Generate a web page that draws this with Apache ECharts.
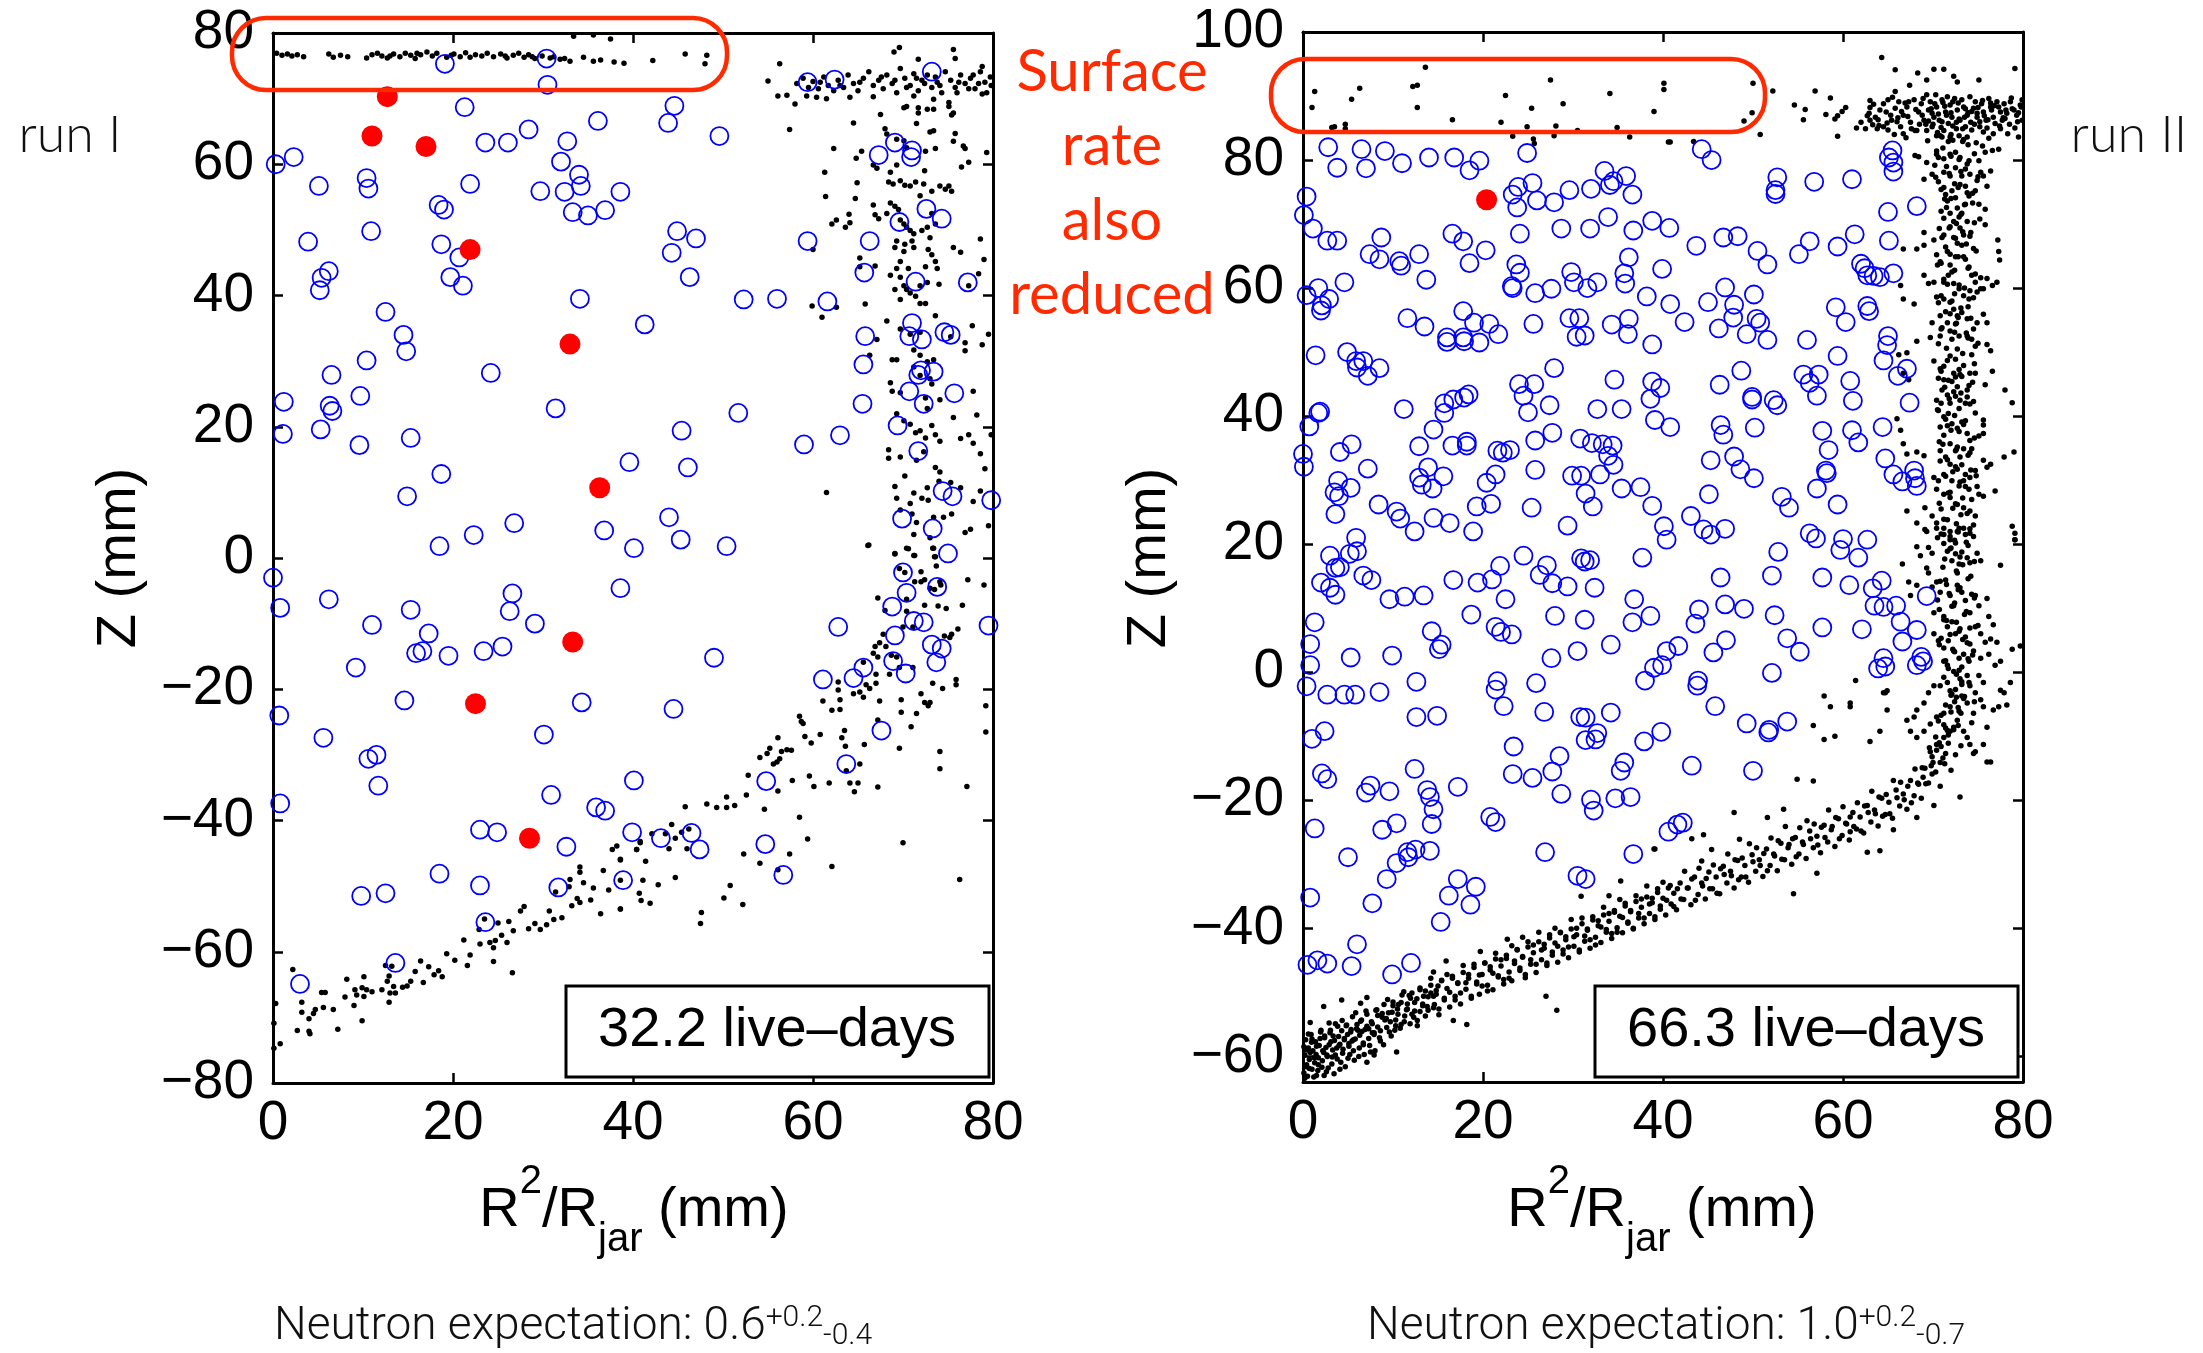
<!DOCTYPE html>
<html>
<head>
<meta charset="utf-8">
<title>run I / run II</title>
<script src="https://cdn.jsdelivr.net/npm/echarts@6/dist/echarts.min.js"></script>
<style>
html, body { margin: 0; padding: 0; background: #fff; }
#chart { width: 2203px; height: 1353px; }
</style>
</head>
<body>
<div id="chart"></div>
<script type="text/javascript">

var xTicks = [0, 20, 40, 60, 80];
var yTicksRunOne = [-80, -60, -40, -20, 0, 20, 40, 60, 80];
var yTicksRunTwo = [-60, -40, -20, 0, 20, 40, 60, 80, 100];

// run I : black events, blue open circles, red candidates
var runOneDots = [
[0.4,76.9],[1.0,76.6],[1.6,76.8],[2.1,76.5],[2.7,76.7],[3.4,76.4],[6.2,76.8],[6.7,76.3],[7.5,76.6],[8.3,76.4],[10.4,76.2],[11.0,76.7],[11.6,76.9],[12.1,76.5],[12.7,76.2],[13.0,76.5],[13.4,76.8],[14.1,76.4],[14.7,76.9],[15.3,76.6],[15.8,76.1],[16.0,76.9],[16.4,76.7],[17.1,77.1],[17.7,76.5],[18.2,76.9],[19.3,76.3],[19.8,76.6],[20.1,76.8],[20.8,76.4],[21.4,77.0],[21.9,76.3],[22.5,76.7],[23.2,76.5],[23.8,76.9],[24.5,76.4],[25.3,76.8],[25.8,76.5],[26.0,76.2],[26.7,76.6],[27.3,76.9],[27.9,76.3],[28.4,76.7],[28.8,76.4],[29.1,76.1],[29.9,76.5],[30.8,76.2],[31.2,76.4],[31.9,76.0],[32.4,76.1],[33.0,75.7],[34.5,76.3],[35.6,75.7],[36.4,75.9],[37.9,75.6],[39.0,75.4],[42.2,75.8],[45.8,76.8],[48.2,76.6],[48.0,75.3],[33.4,79.5],[35.6,79.7],[37.5,79.1],
[56.3,75.3],[55.0,72.7],[56.1,70.4],[57.1,70.5],[58.0,69.2],[57.4,65.3],[64.5,66.3],[67.5,67.6],[69.0,77.1],[69.6,77.8],[71.7,76.0],[75.6,77.5],[75.8,76.1],[78.8,74.9],
[58.2,72.3],[58.9,73.1],[59.5,71.7],[60.0,72.6],[60.6,71.5],[61.2,73.3],[61.7,72.0],[62.3,71.2],[62.8,72.8],[63.4,71.7],[63.9,73.6],[64.5,72.3],[65.0,71.2],[65.6,73.1],[66.2,74.1],[66.7,72.0],[67.3,72.8],[67.8,71.5],[68.2,73.6],[68.8,72.3],[69.3,70.9],[69.7,74.6],[70.2,73.1],[70.8,72.0],[71.2,73.8],[71.7,71.2],[72.1,72.8],[72.7,73.6],[73.2,71.7],[73.8,72.5],[74.3,70.9],[74.7,74.1],[75.3,72.8],[75.8,71.7],[76.4,73.6],[76.9,72.3],[77.5,73.1],[78.0,71.5],[78.6,74.1],[79.1,72.5],[79.7,73.3],[79.3,70.9],[59.3,70.4],[60.4,70.2],[61.5,70.0],[64.1,70.2],[66.7,70.3],[71.2,70.4],[73.4,69.9],[76.0,70.9],[75.1,69.4],[75.4,67.5],[75.1,68.8],[73.4,68.4],[72.7,68.4],[71.7,68.6],[70.1,68.6],[70.4,68.8],[75.6,67.8],[78.8,70.7],
[60.8,72.5],[63.0,72.0],[65.2,72.5],[67.6,73.3],[69.1,72.8],[70.4,71.7],[71.5,73.1],[72.4,72.3],[73.6,73.3],[74.1,72.0],[76.2,72.5],[77.3,71.5],[77.8,73.6],[78.4,72.3],[79.8,72.0],
[71.7,67.8],[71.5,66.2],[73.0,64.9],[73.4,65.1],[75.8,64.7],[75.6,63.5],[76.7,62.8],[76.9,62.4],[79.3,61.8],[68.0,65.4],[68.2,64.6],[69.3,63.8],[70.1,63.6],[70.4,62.5],[72.5,62.0],[73.6,62.4],[64.8,60.9],[65.4,62.0],[66.7,59.9],[67.1,59.4],[68.6,58.8],[68.4,57.3],[68.9,57.0],[69.3,59.9],[69.7,57.5],[70.2,56.8],[70.8,56.7],[71.4,57.3],[72.4,59.0],[72.3,57.0],[71.9,55.2],[73.2,55.9],[74.1,56.7],[74.7,56.2],[75.1,56.7],[75.4,55.9],[76.5,59.6],[77.3,60.3],[62.3,62.4],[61.3,58.8],[61.4,55.1],[64.7,54.8],[64.9,57.2],[66.7,53.8],[66.9,52.3],[67.3,51.7],[68.2,52.5],[68.6,54.1],[69.1,53.6],[69.5,53.1],[69.7,51.5],[70.1,50.9],[70.4,50.4],[70.8,49.9],[71.2,49.4],[71.0,48.3],[70.2,47.8],[69.3,48.3],[69.1,47.3],[70.1,46.7],[71.2,47.3],[72.1,49.9],[72.7,50.4],[73.2,52.5],[73.6,50.9],[73.0,48.8],[72.8,47.0],[73.2,46.2],[73.6,45.2],[73.8,44.1],[72.5,44.4],[72.7,42.0],[71.9,41.5],[71.4,39.9],[70.8,40.4],[70.4,40.9],[70.1,41.5],[69.7,42.8],[69.3,44.1],[69.7,45.2],[70.6,44.1],[68.6,43.1],[69.1,40.9],[69.7,39.4],[71.9,38.8],[72.5,38.8],[74.0,41.7],[75.6,47.3],[76.4,46.6],[78.6,48.6],[79.0,45.5],[78.4,43.3],[77.3,41.5],[65.2,45.7],[65.2,44.4],[66.9,44.5],[64.1,51.1],[62.6,51.5],[62.1,50.9],[63.6,50.4],[64.0,52.4],[60.0,47.0],[59.9,38.4],[61.0,36.7],[62.6,38.2],[65.8,38.7],[68.2,36.1],[69.7,34.9],[70.8,34.1],[71.9,34.4],[73.6,36.9],[75.3,33.7],[77.7,35.4],[78.8,32.5],[79.5,34.1],[76.9,32.8],[76.9,31.6],[67.1,33.3],[66.3,30.9],[68.8,30.2],[69.3,30.2],[71.2,31.7],[71.9,30.9],[72.7,29.9],[73.4,30.2],[68.6,26.7],[68.8,25.4],[69.7,25.2],[71.2,29.1],[71.9,27.8],[73.0,27.3],[73.2,26.5],[72.5,24.4],[72.7,22.8],[74.1,24.1],[77.8,25.4],[75.6,21.4],[78.2,21.8],[69.3,22.0],[70.1,20.9],[70.8,20.4],[71.4,19.1],[71.9,19.4],[72.5,18.3],[73.2,20.2],[73.6,18.8],[74.1,17.8],[77.3,18.8],[77.8,17.5],[76.4,18.2],[78.6,15.9],[79.8,18.8],[68.4,16.5],[68.4,15.2],[69.7,15.4],[71.5,14.9],[72.3,16.2],[73.6,13.8],[74.1,13.1],[79.1,13.6],[70.2,12.5],[69.1,10.9],[71.2,9.9],[72.1,9.1],[69.3,9.1],[69.7,7.3],[70.8,8.3],[71.0,6.7],[72.7,10.7],[72.8,8.8],[74.0,11.7],[75.3,11.5],[76.4,10.7],[78.6,10.2],[77.8,8.6],[77.5,4.4],[76.9,3.9],[79.5,4.9],[71.5,5.4],[73.4,6.2],[74.5,6.2],[75.4,6.7],[71.2,3.6],[73.0,3.1],[73.4,1.5],[73.6,0.2],[70.4,1.5],[71.2,0.4],[69.1,0.7],[66.2,2.0],[61.5,10.0],
[66.1,1.9],[69.1,0.6],[70.6,1.4],[71.3,0.4],[73.3,1.5],[73.5,0.2],[73.7,-1.2],[69.6,-1.6],[70.2,-2.2],[72.0,-2.1],[71.3,-3.6],[72.0,-3.6],[72.4,-3.3],[74.1,-3.6],[73.0,-4.6],[73.5,-4.8],[74.2,-4.1],[67.2,-6.1],[68.0,-8.0],[70.4,-6.3],[72.4,-7.2],[73.9,-7.3],[74.8,-7.7],[76.6,-7.2],[77.2,-3.3],[79.0,-4.1],[70.4,-8.1],[70.0,-10.5],[71.1,-10.5],[67.8,-11.6],[67.4,-12.9],[66.9,-13.5],[66.7,-14.5],[67.2,-15.1],[68.1,-13.5],[68.7,-14.8],[69.3,-15.1],[69.6,-16.7],[68.5,-17.7],[67.0,-17.7],[65.9,-19.3],[65.2,-20.4],[65.6,-21.2],[64.5,-20.7],[67.0,-19.1],[66.3,-19.9],[65.6,-15.9],[71.1,-16.7],[74.6,-11.9],[75.4,-11.6],[75.2,-12.1],[76.1,-10.8],[75.9,-18.5],[75.9,-19.3],[74.4,-19.9],[73.3,-19.1],[79.2,-22.5],[79.2,-26.5],[74.1,-29.5],[74.1,-32.1],[77.1,-34.8],[72.0,-20.7],[72.4,-22.0],[72.8,-22.5],[73.0,-22.0],[71.5,-23.7],[70.9,-25.7],[69.8,-21.6],[69.8,-23.5],[69.6,-29.0],[67.4,-21.8],[67.2,-24.7],[65.7,-28.4],[65.2,-31.4],[65.0,-34.3],[64.6,-35.6],[64.1,-34.3],[63.7,-32.4],[63.5,-26.3],[63.6,-28.7],[63.2,-27.4],[63.0,-23.1],[63.0,-21.6],[62.8,-20.1],[62.8,-18.9],[62.1,-23.2],[61.1,-21.8],[60.8,-26.9],[59.8,-28.2],[59.1,-27.2],[58.7,-24.9],[58.5,-24.1],[58.9,-25.2],[57.6,-29.3],[57.1,-29.2],[56.5,-29.5],[56.3,-30.6],[56.0,-31.1],[56.1,-27.4],[55.6,-31.4],[55.2,-29.0],[54.9,-29.8],[54.1,-30.4],[52.8,-33.1],[52.6,-36.1],[51.3,-37.7],[50.4,-36.4],[50.4,-38.0],[49.3,-38.0],[48.2,-37.5],[45.8,-37.9],[44.7,-42.7],[44.3,-40.6],[43.6,-42.0],[42.1,-42.0],[40.8,-43.2],[40.4,-44.4],[41.4,-46.2],[38.6,-46.0],[44.0,-44.3],[46.0,-44.3],[46.2,-41.3],[45.4,-41.8],[56.1,-35.5],[57.7,-33.9],[58.5,-39.5],[59.4,-42.8],[59.6,-33.2],[60.1,-34.8],[61.8,-34.3],[67.2,-34.9],[70.0,-43.4],[76.3,-49.0],[62.1,-47.0],[57.4,-45.1],[54.1,-46.5],[52.3,-45.1],[54.6,-38.3],[56.1,-47.5],[50.8,-49.9],[50.1,-51.8],[52.2,-52.8],[47.6,-54.0],[47.5,-55.7],[44.7,-48.7],[42.8,-49.8],[41.9,-52.6],[40.9,-52.2],[40.7,-51.1],[41.1,-49.1],[38.6,-53.5],[38.6,-49.1],
[37.7,-44.4],[38.2,-43.9],[38.6,-45.9],[40.4,-44.4],[40.8,-43.4],[34.1,-47.1],[34.1,-47.9],[33.0,-49.0],[32.9,-50.1],[36.7,-47.6],[34.5,-49.5],[35.6,-50.3],[37.3,-50.6],[38.6,-53.5],[36.4,-54.2],[35.3,-52.1],[34.1,-52.5],[33.8,-51.9],[33.2,-53.0],[32.1,-54.8],[31.4,-50.9],[30.7,-53.8],[31.2,-55.1],[30.4,-55.9],[29.7,-56.6],[29.1,-55.7],[28.4,-56.5],[27.9,-53.1],[27.5,-53.8],[26.7,-56.8],[26.2,-55.4],[26.0,-58.6],[25.0,-55.6],[24.7,-58.3],[24.5,-59.4],[24.1,-58.6],[25.4,-57.5],[24.5,-61.5],[26.6,-63.2],[23.5,-55.0],[22.9,-56.6],[23.0,-58.8],[21.2,-58.2],[21.9,-60.5],[21.6,-62.1],[20.2,-61.3],[19.3,-60.3],[18.8,-63.8],[18.4,-62.9],[17.9,-63.5],[17.3,-62.3],[16.7,-64.7],[16.4,-61.4],[15.8,-63.0],[15.3,-64.5],[14.9,-65.2],[14.4,-65.4],[13.4,-65.3],[13.2,-62.2],[12.5,-62.1],[12.9,-63.7],[12.7,-64.5],[13.0,-66.3],[12.9,-67.7],[13.6,-66.3],[12.1,-65.8],[11.0,-66.1],[10.4,-65.8],[9.9,-65.5],[10.1,-66.8],[9.3,-66.6],[9.1,-65.8],[9.0,-68.2],[8.0,-66.9],[8.2,-64.2],[10.1,-63.8],[9.9,-70.5],[7.2,-71.8],[6.7,-68.8],[5.6,-68.5],[5.4,-66.2],[5.8,-66.2],[4.7,-68.8],[4.5,-69.4],[4.0,-70.2],[3.2,-67.7],[3.2,-69.2],[2.7,-72.0],[4.0,-72.1],[4.1,-72.5],[2.2,-62.7],[0.3,-67.9],[0.1,-70.9],[0.8,-74.0],[0.1,-74.7]
];

var runOneOpen = [
[19.1,75.3],[30.4,76.1],[30.5,72.1],[21.3,68.7],[36.1,66.6],[28.4,65.3],[23.6,63.3],[26.1,63.3],[32.7,63.5],[0.3,60.0],[2.3,61.1],[32.0,60.4],[34.0,58.4],[34.2,56.7],[5.1,56.7],[10.4,57.9],[10.6,56.3],[21.9,57.0],[29.7,55.9],[32.4,55.8],[38.6,55.8],[18.4,53.8],[19.0,53.1],[33.3,52.7],[35.0,52.2],[36.9,53.0],[10.9,49.8],[3.9,48.2],[18.7,47.8],[20.7,45.8],[6.2,43.7],[5.4,42.7],[5.2,40.8],[19.7,42.8],[21.1,41.5],[34.1,39.5],[12.5,37.5],[14.5,34.0],[14.8,31.5],[41.3,35.6],[10.4,30.1],[6.5,27.9],[24.2,28.2],[1.2,23.8],[6.3,23.2],[6.6,22.4],[9.7,24.7],[31.4,22.8],[1.1,18.9],[5.3,19.6],[9.6,17.2],[15.3,18.3],[39.6,14.6],[18.7,12.8],[14.9,9.4],[26.8,5.3],[22.3,3.5],[36.8,4.2],[18.5,1.8],[40.1,1.5],
[59.4,72.5],[62.4,72.9],[73.2,74.1],[44.6,68.9],[43.9,66.3],[49.6,64.3],[69.1,63.3],[71.0,62.1],[70.9,61.1],[67.3,61.4],[44.9,49.8],[47.0,48.7],[44.3,46.5],[46.3,42.8],[59.4,48.3],[66.3,48.3],[72.6,53.2],[74.3,51.7],[69.6,51.2],[65.7,43.5],[71.4,42.1],[77.2,42.0],[52.3,39.4],[56.0,39.5],[61.6,39.1],[65.8,33.8],[71.0,35.8],[70.7,33.8],[72.1,33.3],[74.6,34.4],[75.3,34.0],[65.6,29.5],[72.0,28.6],[73.4,28.4],[71.7,27.9],[70.7,25.4],[72.3,23.5],[75.7,25.1],[65.5,23.5],[51.7,22.1],[45.4,19.4],[63.0,18.7],[59.0,17.3],[69.4,20.2],[71.7,16.3],[46.1,13.8],[44.0,6.2],[45.3,2.8],[50.4,1.8],[74.4,10.2],[75.5,9.4],[79.8,8.8],[69.9,6.0],[73.3,4.5],[75.0,0.7],
[0.0,-3.0],[0.8,-7.6],[6.2,-6.3],[11.0,-10.2],[15.3,-7.9],[17.3,-11.5],[15.9,-14.5],[16.6,-14.2],[19.5,-14.9],[9.2,-16.7],[23.4,-14.2],[25.5,-13.5],[26.3,-8.1],[26.6,-5.4],[29.1,-10.0],[38.6,-4.6],[14.6,-21.7],[0.7,-24.0],[5.6,-27.4],[10.6,-30.6],[11.5,-30.0],[11.7,-34.7],[34.3,-22.0],[30.1,-26.9],[0.8,-37.4],[40.1,-33.9],[30.9,-36.1],[35.9,-38.0],[36.9,-38.5],[39.9,-41.8],[23.0,-41.4],[24.9,-41.8],[32.6,-44.0],[18.5,-48.1],[9.8,-51.5],[12.5,-51.1],[23.0,-49.9],[31.7,-50.2],[38.9,-49.1],[23.6,-55.5],[13.6,-61.7],[3.0,-64.9],
[70.0,-2.2],[70.4,-5.3],[73.8,-4.4],[68.8,-7.4],[69.1,-11.8],[71.2,-9.6],[72.3,-9.8],[73.2,-13.2],[74.3,-13.8],[73.7,-15.9],[70.3,-17.6],[68.9,-15.7],[65.6,-16.7],[64.5,-18.3],[61.1,-18.5],[62.8,-10.5],[79.5,-10.3],[49.0,-15.2],[44.5,-23.0],[67.6,-26.3],[63.7,-31.4],[54.8,-34.0],[43.1,-42.7],[46.5,-41.9],[47.4,-44.4],[54.7,-43.6],[56.7,-48.3]
];

var runOneRed = [
[12.7,70.3],[11.0,64.3],[17.0,62.7],[21.9,47.0],[33.0,32.6],[36.3,10.7],[33.3,-12.8],[22.5,-22.2],[28.5,-42.7]
];

// run II
var runTwoDots = [
[13.6,94.5],[1.3,90.7],[6.3,91.2],[5.4,89.5],[1.0,88.2],[12.2,91.5],[12.7,91.7],[12.7,88.2],[3.2,85.1],[3.5,85.2],[4.7,85.6],[4.7,84.9],[16.6,86.3],[22.0,85.9],[22.5,90.1],[23.3,83.7],[24.9,85.2],[25.4,88.1],[25.6,83.3],[25.7,82.6],[27.5,92.5],[28.9,88.8],[28.1,85.3],[27.9,83.8],[30.5,84.6],[34.1,90.4],[34.9,85.1],[36.3,83.6],[39.0,87.6],[40.1,92.0],[40.1,91.0],[40.6,82.8],[50.0,92.0],[52.2,90.8],[49.9,87.4],[49.0,86.1],[50.8,84.0],[40.8,82.8],[43.4,82.9],[54.6,88.6],[55.8,87.9],[55.6,86.3],[56.9,90.8],[58.1,87.1],[58.6,89.7],[59.1,86.4],[59.4,86.9],[59.9,87.6],[60.3,88.2],[59.4,83.7],[63.0,89.3],[63.0,88.2],[64.3,96.0],[65.8,94.1],[68.3,93.6],[69.3,92.5],[70.1,94.2],[71.2,94.2],[72.3,93.1],[72.7,92.2],[75.1,92.5],[79.1,94.3],[67.4,91.7],[65.8,90.7],
[62.5,84.9],[63.0,86.2],[63.6,86.7],[64.1,87.8],[64.5,88.8],[65.0,89.4],[65.4,86.2],[65.8,88.1],[66.2,89.1],[66.4,85.2],[66.7,87.0],[67.1,88.3],[67.5,85.9],[67.9,89.4],[68.0,84.6],[68.4,87.5],[68.7,88.8],[69.0,86.2],[69.3,90.2],[69.5,87.8],[69.7,89.1],[69.9,85.2],[70.1,86.7],[70.3,90.2],[70.4,88.3],[70.7,86.2],[71.0,89.4],[71.2,84.6],[71.4,87.5],[71.6,89.9],[71.7,85.7],[71.9,88.6],[72.1,86.7],[72.4,89.6],[72.6,84.9],[72.7,87.8],[73.0,86.2],[73.2,89.4],[73.4,88.3],[73.6,85.2],[73.8,87.0],[74.1,89.9],[74.2,85.9],[74.5,88.1],[74.7,89.1],[74.9,86.7],[75.2,85.2],[75.4,88.8],[75.6,87.5],[75.9,86.2],[76.2,89.6],[76.4,88.3],[76.7,86.7],[76.9,85.7],[77.1,89.1],[77.5,87.5],[77.7,86.2],[77.9,88.8],[78.2,87.3],[78.6,89.1],[79.0,87.8],[79.3,87.0],[79.7,88.6],[79.9,89.4],[79.9,86.2],[79.5,83.6],[64.5,85.2],[62.9,87.3],[65.3,87.0],[63.8,84.9],[66.7,84.1],[68.2,84.6],[69.3,84.6],[70.8,83.8],[70.4,83.8],[71.9,83.6],[72.9,83.8],[73.8,83.6],[75.6,84.4],[76.7,84.1],[77.3,81.7],[75.8,81.2],
[68.8,87.0],[69.8,88.0],[70.6,87.2],[71.3,88.4],[72.0,87.4],[72.8,88.9],[73.5,86.7],[74.3,87.6],[75.0,88.2],[75.7,86.9],[76.5,87.8],[77.3,88.3],[78.0,86.5],[78.8,88.0],[79.5,87.4],[70.0,85.6],[71.0,86.0],[72.2,85.3],[73.3,84.9],[74.6,85.6],[76.0,85.0],[77.4,85.3],[78.5,85.6],[69.2,85.6],[67.2,86.8],[66.0,86.0],[64.9,85.8],[63.3,85.5],[62.0,85.9],[61.5,85.0],
[62.7,86.9],[63.4,88.7],[64.0,85.4],[64.8,87.5],[65.5,89.8],[66.1,86.6],[66.9,88.9],[67.6,84.9],[68.1,87.9],[68.9,89.6],[69.5,86.1],[70.2,88.8],[70.9,85.1],[71.5,87.0],[72.2,89.1],[72.9,86.4],[73.6,88.0],[74.3,84.7],[74.9,87.3],[75.5,89.3],[76.1,86.3],[76.8,88.5],[77.5,84.9],[78.1,87.8],[78.7,89.7],[79.4,86.0],[79.8,88.3],[63.9,86.3],[65.0,84.7],[66.5,87.6],[67.3,89.1],[68.5,85.6],[69.9,87.3],[71.1,89.0],[72.6,85.9],[73.9,87.4],[75.2,86.0],[76.4,88.9],[77.8,86.6],[79.1,85.0],[70.5,84.3],[72.0,84.0],[73.4,83.2],[74.8,82.7],[71.7,82.9],[69.4,83.0],[76.2,83.4],[78.3,84.1],[67.0,83.5],[65.7,84.0],
[68.0,80.7],[68.4,80.5],[69.3,79.6],[70.4,80.9],[70.6,80.4],[71.2,80.2],[71.9,80.9],[72.5,81.2],[73.0,80.4],[73.8,79.4],[75.1,79.9],[76.4,78.3],[76.6,81.5],[69.0,77.0],[69.9,77.8],[70.3,77.3],[71.2,78.1],[71.9,77.5],[72.5,78.8],[73.2,77.5],[74.1,77.8],[75.3,78.1],[75.6,77.5],[71.2,75.7],[71.4,74.6],[71.6,73.6],[72.1,75.2],[72.5,74.1],[73.0,76.2],[73.6,75.9],[74.0,74.4],[74.7,75.2],[76.0,75.9],[75.1,73.1],[73.6,73.1],[73.2,71.7],[72.7,72.5],[71.9,71.7],[71.2,70.9],[72.3,70.4],[73.0,69.4],[73.8,70.4],[75.8,72.3],[75.8,69.9],[69.0,68.7],[70.1,67.5],[71.2,68.3],[71.9,69.6],[72.5,67.8],[73.4,68.3],[74.1,68.1],[77.2,67.5],[77.3,65.7],[77.4,64.4],[66.7,66.1],[68.2,66.1],[69.0,66.7],[70.4,65.2],[70.8,64.1],[71.6,65.7],[71.9,63.6],[72.5,64.9],[73.2,66.7],[73.4,64.9],[74.0,63.3],[74.3,62.0],[74.7,60.9],[75.3,59.9],[76.0,61.5],[76.6,60.4],[77.1,60.9],[69.0,62.0],[69.5,60.7],[70.1,60.9],[71.2,60.9],[71.7,62.0],[72.3,60.7],[72.9,59.9],[73.4,58.8],[74.0,58.3],[74.9,59.4],[75.6,59.9],[66.4,60.4],[66.7,58.3],[67.9,57.5],[70.4,58.6],[71.2,58.3],[71.9,57.8],[72.3,56.7],[72.7,55.7],[73.2,56.2],[73.8,55.2],[74.5,53.6],[75.6,55.9],[76.0,54.6],[69.9,54.6],[70.8,55.7],[71.6,54.6],[71.9,53.3],[72.5,54.4],[72.9,52.5],[73.8,52.5],[74.3,52.0],[74.7,50.9],[76.0,51.2],[76.4,50.2],[69.7,52.3],[70.8,52.5],[68.2,51.7],[66.2,49.6],[67.1,49.9],[66.7,46.7],[67.3,45.7],[70.1,48.6],[71.2,47.8],[71.9,49.4],[72.3,46.7],[72.9,47.3],[72.1,45.4],[72.7,44.6],[73.2,46.2],[73.8,44.1],[74.1,46.7],[74.7,46.7],[75.8,44.9],[76.6,47.0],[70.6,45.9],[71.2,45.7],[71.0,44.1],[71.6,43.3],[71.9,42.0],[72.5,43.1],[73.0,42.5],[73.6,42.0],[74.5,42.3],[78.0,44.1],[78.8,42.1],[70.4,42.5],[70.6,40.9],[71.2,39.9],[71.7,40.4],[72.1,38.8],[72.7,38.1],[73.2,39.1],[73.8,37.3],[74.1,36.2],[70.8,38.3],[71.2,37.0],[66.0,39.6],[66.4,37.8],[75.6,39.4],[75.6,38.6],[75.6,37.3],[79.0,34.4],[77.9,33.6],[71.9,35.7],[72.5,34.6],[73.0,33.6],[73.4,34.9],[74.3,34.9],[70.8,34.6],[71.4,33.6],[71.9,32.5],[72.7,31.7],[73.6,30.9],[74.1,30.4],[74.7,31.5],[75.6,33.1],[76.4,32.5],[76.0,32.0],[66.7,35.7],[67.1,34.1],[68.2,34.4],[69.0,33.8],[70.1,30.4],[71.2,30.9],[72.1,29.9],[72.9,29.1],[73.4,29.9],[74.0,28.6],[75.1,27.8],[75.6,27.5],[76.9,28.3],[70.4,28.6],[71.2,27.8],[71.9,27.3],[72.7,26.2],[73.4,25.7],[74.1,25.2],[74.7,24.4],[78.8,22.8],[68.2,23.3],[69.1,25.7],[67.1,25.2],[69.9,24.4],[70.4,23.3],[71.2,22.5],[71.9,22.0],[72.9,22.5],[73.6,21.5],[69.3,22.0],[71.9,20.7],[72.5,20.2],[79.1,21.7],[79.1,20.7],
[72.2,83.1],[73.9,82.4],[71.1,81.9],[74.6,81.0],[72.9,80.1],[70.2,79.2],[73.6,78.6],[71.8,77.9],[74.9,76.8],[72.4,76.3],[70.9,75.4],[73.8,74.9],[72.0,74.0],[74.4,73.3],[71.5,72.6],[73.1,71.5],[75.2,70.8],[72.6,70.1],[70.7,69.3],[74.2,68.7],[72.3,67.9],[73.7,66.9],[71.4,66.4],[74.8,65.8],[72.8,64.9],[70.9,63.9],[73.9,63.1],[72.1,62.5],[75.3,61.6],[71.6,60.6],[73.5,60.0],[72.4,59.1],[74.5,58.5],[70.6,57.7],[73.1,56.9],[71.9,56.0],[74.2,55.3],[72.6,54.5],[70.9,53.6],[73.7,53.0],[72.1,52.0],[75.0,51.4],[71.5,50.6],[73.3,49.8],[72.5,48.9],[74.6,48.2],[70.8,47.4],[73.0,46.5],[71.7,45.6],[74.0,44.8],[72.3,43.8],[73.8,43.0],[70.9,42.0],[72.9,41.2],[74.7,40.5],[71.4,39.5],[73.4,38.7],[72.0,37.8],[75.1,36.9],[70.7,36.0],[72.7,35.2],[74.1,34.3],[71.6,33.2],[73.2,32.4],[72.2,31.3],[74.8,30.7],[70.6,29.9],[73.6,29.0],[71.9,28.1],[74.3,27.0],[72.5,26.3],[70.9,25.5],[73.1,24.6],[71.6,23.8],[74.5,23.0],[72.8,21.9],[70.5,21.0],[73.7,20.3],[72.0,19.4],[74.9,18.6],[71.3,17.7],[73.3,16.8],[72.6,15.8],[74.2,15.0],[70.8,14.2],[73.0,13.2],[71.8,12.3],[74.6,11.6],[72.4,10.8],[70.7,9.8],[73.5,9.0],[71.5,8.1],[75.0,7.3],[72.9,6.4],[70.9,5.3],[73.8,4.6],[72.2,3.6],[74.4,2.7],[71.4,1.8],[73.2,0.8],[72.6,-0.3],[74.0,-1.6],[71.9,-2.9],[73.4,-4.1],[72.8,-5.5],[70.9,-6.7],[74.3,-7.9],[72.3,-9.0],[70.3,-10.1],[73.1,-11.5],[71.4,-12.7],[69.8,-14.6],[72.0,-15.3],[68.9,-16.4],[70.8,-17.8],
[71.0,83.6],[73.3,82.9],[75.5,82.2],[70.4,81.4],[72.0,80.6],[74.0,79.9],[71.5,79.0],[73.1,78.2],[75.0,77.4],[70.6,76.6],[72.8,75.7],[74.4,74.8],[71.3,73.9],[73.5,73.0],[70.9,72.0],[72.9,71.1],[74.6,70.2],[71.8,69.4],[73.3,68.8],[71.0,67.9],[72.7,67.0],[74.5,66.2],[71.9,65.3],[73.6,64.5],[70.5,63.6],[72.4,62.8],[74.7,62.2],[71.2,61.4],[72.9,60.5],[74.1,59.6],[70.9,58.8],[72.1,58.0],[73.9,57.1],[71.4,56.3],[72.8,55.4],[74.9,54.6],[71.0,53.8],[72.4,53.1],[73.9,52.2],[70.6,51.3],[72.7,50.5],[74.3,49.6],[71.6,48.7],[73.4,47.9],[70.9,47.0],[72.5,46.1],[74.4,45.3],[71.3,44.5],[73.1,43.6],[71.8,42.7],[74.1,41.9],[70.5,41.0],[72.4,40.1],[73.6,39.3],[71.6,38.5],[72.9,37.6],[74.6,36.6],[71.1,35.6],[72.6,34.8],[73.9,33.9],[70.8,33.0],[72.5,32.1],[74.2,31.6],[71.4,30.6],[73.0,29.7],[74.9,29.0],[71.7,28.0],[73.3,27.2],[70.7,26.4],[72.2,25.6],[73.8,24.8],[71.2,23.9],[72.6,23.2],[74.1,22.4],[70.9,21.6],[72.4,20.6],[73.9,19.8],[71.6,18.9],[73.0,18.0],[74.6,17.3],[71.1,16.4],[72.7,15.5],[73.9,14.6],[71.5,13.7],[72.8,12.9],[74.3,12.2],[70.5,11.3],[72.1,10.3],[73.7,9.5],[71.2,8.7],[72.6,7.8],[74.1,6.9],[71.9,5.9],[73.3,5.1],[70.7,4.3],[72.4,3.2],[73.9,2.1],[71.6,1.1],[72.9,0.3],[71.2,-0.8],[73.2,-1.9],[72.1,-3.4],[74.6,-4.6],[71.4,-5.1],[73.1,-6.4],[70.6,-7.6],[72.8,-8.3],[71.7,-9.8],[73.8,-10.2],[70.9,-11.6],[72.5,-12.9],[71.3,-14.3],[69.9,-15.9],
[69.1,22.3],[70.4,22.5],[71.2,21.5],[71.9,21.2],[72.7,22.0],[73.4,22.5],[74.1,21.7],[74.5,21.2],[71.2,20.1],[71.9,19.3],[72.5,18.5],[73.2,18.8],[73.8,17.9],[72.1,17.4],[72.9,16.9],[74.1,17.1],[75.3,17.4],[77.5,16.7],[79.1,20.7],[68.2,19.6],[68.6,18.2],[69.5,19.5],[69.9,18.6],[66.6,16.9],[67.3,14.1],[67.5,12.0],[68.2,13.6],[69.3,16.3],[69.5,15.5],[69.9,13.3],[70.1,9.3],[70.4,14.1],[70.8,12.5],[71.4,14.4],[71.9,12.0],[72.3,10.4],[72.7,13.6],[73.2,12.5],[73.6,11.2],[74.1,9.3],[74.7,12.0],[75.1,10.4],[76.0,11.5],[76.2,8.7],[76.7,7.4],[77.1,4.7],[78.8,3.6],[79.7,4.1],[71.2,8.2],[71.6,7.1],[72.1,7.9],[72.5,6.0],[73.0,6.8],[73.6,5.5],[74.1,4.4],[74.7,7.1],[75.3,6.0],[75.8,4.7],[76.4,5.2],[70.1,6.0],[70.6,4.9],[71.2,3.8],[71.7,4.9],[72.3,3.3],[72.9,2.2],[73.4,2.8],[74.0,1.7],[74.5,3.3],[75.3,2.2],[76.2,2.8],[77.5,1.7],[76.9,1.1],[71.2,1.7],[71.7,0.6],[72.3,0.1],[78.6,-1.6],[77.9,-3.2],[77.3,-5.4],[78.2,-5.1],[77.5,-2.8],[75.6,-1.6],[75.1,-0.5],[73.8,-0.5],[73.0,-1.0],[74.1,-2.1],[74.7,-3.2],[75.3,-4.3],[75.6,-5.4],[76.7,-5.9],[74.5,-6.4],[73.8,-4.8],[73.2,-3.7],[72.5,-2.7],[71.6,-1.6],[70.8,-2.1],[70.1,-2.1],[69.5,-3.2],[69.0,-4.8],[68.2,-5.9],[67.9,-7.0],[67.1,-7.5],[67.5,-9.2],[68.2,-10.2],[69.0,-9.2],[69.7,-8.1],[70.4,-7.0],[71.2,-6.4],[71.9,-5.4],[72.7,-7.5],[73.4,-9.2],[74.1,-11.3],[74.7,-12.4],[75.6,-11.3],[76.0,-8.6],[71.9,-9.2],[71.2,-10.2],[70.4,-11.3],[69.7,-12.4],
[0.1,-62.6],[0.2,-59.8],[0.3,-57.4],[0.4,-61.3],[0.5,-63.1],[0.6,-58.7],[0.7,-60.5],[0.9,-56.6],[1.0,-62.0],[1.1,-59.1],[1.3,-61.0],[1.4,-57.7],[1.5,-63.0],[1.7,-60.2],[1.8,-58.3],[2.0,-55.9],[2.1,-61.7],[2.3,-59.4],[2.4,-57.1],[2.6,-62.4],[2.7,-60.0],[2.9,-58.2],[3.0,-56.3],[3.2,-61.2],[3.3,-59.0],[3.5,-57.5],[3.6,-54.9],[3.8,-60.4],[4.0,-58.3],[4.1,-62.0],[4.3,-56.0],[4.4,-59.5],[4.6,-57.4],[4.8,-55.2],[5.0,-60.3],[5.1,-58.0],[5.3,-56.2],[5.5,-53.8],[5.6,-59.1],[5.8,-57.3],[6.0,-55.0],[6.2,-60.0],[6.3,-56.7],[6.5,-54.3],[6.7,-58.2],[6.9,-55.8],[7.1,-53.4],[7.3,-57.2],[7.5,-59.3],[7.7,-54.9],[7.9,-56.6],[8.1,-52.8],[8.3,-55.4],[8.6,-57.6],[8.8,-53.9],[9.0,-51.9],[9.3,-55.5],[9.5,-53.2],[9.8,-56.8],[10.0,-51.5],[10.3,-54.3],[10.5,-52.6],[10.8,-55.6],[11.0,-50.4],[11.3,-53.7],[11.6,-51.8],[11.9,-54.9],[12.1,-50.1],[12.4,-52.9],[12.7,-55.2],[13.0,-49.6],[13.3,-51.8],[13.6,-53.7],[13.9,-50.7],[14.2,-48.9],[14.5,-52.4],[14.8,-50.3],[15.1,-53.5],[15.4,-48.1],[15.7,-51.2],[16.0,-49.4],[16.3,-52.3],[16.6,-47.5],[16.9,-50.6],[17.2,-48.6],[17.5,-51.8],[17.8,-46.9],[18.1,-49.5],[18.4,-47.8],[18.7,-50.9],[19.0,-46.1],[19.3,-48.7],[19.6,-50.3],[19.9,-47.2],[20.2,-45.4],[20.5,-48.9],[20.8,-46.5],[21.1,-49.6],[21.4,-44.8],[21.7,-47.6],[22.0,-45.9],[22.3,-48.7],[22.6,-44.2],[22.9,-46.8],[23.2,-48.2],[23.5,-45.1],[23.8,-43.4],[24.1,-46.6],[24.4,-44.5],[24.7,-47.7],[25.0,-42.9],[25.3,-45.6],[25.6,-43.8],[25.9,-46.9],[26.2,-42.1],[26.5,-44.9],[26.8,-43.1],[27.1,-45.8],[27.4,-41.5],[27.7,-44.2],[28.0,-42.3],[28.3,-45.3],[28.6,-40.7],[28.9,-43.4],[29.2,-41.8],[29.5,-44.6],[29.8,-40.1],[30.1,-42.8],[30.4,-41.0],[30.7,-43.7],[31.0,-39.3],[31.3,-42.0],[31.6,-40.3],[31.9,-43.1],[32.2,-38.7],[32.5,-41.4],[32.8,-39.6],[33.1,-42.2],[33.4,-37.9],[33.7,-40.6],[34.0,-38.9],[34.3,-41.6],[34.6,-37.2],[34.9,-39.9],[35.2,-38.1],[35.5,-40.7],[35.8,-36.5],[36.1,-39.2],[36.4,-37.4],[36.7,-40.1],[37.0,-35.8],[37.3,-38.4],[37.6,-36.7],[37.9,-39.3],[38.2,-35.1],[38.5,-37.7],[38.8,-36.0],[39.1,-38.6],[39.4,-34.4],[39.7,-37.0],[40.0,-35.3],[40.3,-37.9],[40.6,-33.7],[40.9,-36.2],[41.2,-34.5],[41.5,-37.1],[41.9,-32.9],[42.3,-35.5],[42.7,-33.7],[43.1,-36.3],[43.5,-32.0],[43.9,-34.7],[44.3,-32.9],[44.7,-35.4],[45.1,-31.2],[45.5,-33.8],[45.9,-32.0],[46.3,-34.6],[46.7,-30.3],[47.1,-32.9],[47.5,-31.1],[47.9,-33.7],[48.3,-29.4],[48.7,-32.0],[49.1,-30.2],[49.5,-32.8],[49.9,-28.5],[50.3,-31.1],[50.7,-29.3],[51.1,-31.9],[51.5,-27.6],[51.9,-30.2],[52.3,-28.4],[52.7,-31.0],[53.1,-26.7],[53.5,-29.3],[53.9,-27.4],[54.3,-30.0],[54.7,-25.8],[55.1,-28.4],[55.5,-26.5],[55.9,-29.1],[56.3,-24.8],[56.7,-27.4],[57.1,-25.6],[57.5,-28.2],[57.9,-23.9],[58.3,-26.5],[58.7,-24.6],[59.1,-27.2],[59.5,-22.9],[59.9,-25.5],[60.3,-23.6],[60.7,-26.2],[61.1,-21.9],[61.5,-24.5],[61.9,-22.6],[62.3,-25.1],[62.7,-20.8],[63.1,-23.4],[63.5,-21.5],[63.9,-24.0],[64.3,-19.7],[64.7,-22.2],[65.1,-20.3],[65.5,-22.8],[65.9,-18.4],[66.3,-20.9],[66.7,-19.0],[67.1,-21.4],[67.5,-16.9],[67.9,-19.3],[68.3,-17.3],[68.7,-19.7],[69.1,-15.0],[69.5,-17.3],[69.9,-13.2],[70.3,-15.6],[70.7,-11.0],[71.1,-13.4],[71.4,-8.7],[71.7,-11.1],[72.0,-6.2],[72.3,-8.6],[72.6,-3.9],[72.9,-6.1],[73.2,-1.5],[73.5,-3.8],
[0.1,-58.5],[0.35,-61.6],[0.6,-56.5],[0.8,-59.4],[1.0,-57.3],[1.25,-60.2],[1.5,-58.4],[1.7,-61.3],[1.95,-56.2],[2.2,-59.1],[2.4,-56.8],[2.65,-59.8],[2.9,-54.8],[3.1,-57.7],[3.35,-56.8],[3.6,-59.8],[3.85,-55.3],[4.1,-58.1],[4.35,-54.4],[4.6,-57.2],[4.85,-55.1],[5.1,-58.4],[5.35,-55.8],[5.6,-57.4],[5.85,-53.2],[6.1,-55.9],[6.4,-54.5],[6.7,-57.9],[7.0,-52.9],[7.3,-55.7],[7.6,-54.6],[7.9,-56.3],[8.2,-52.7],[8.5,-57.1],[8.8,-53.3],[9.1,-54.3],[9.4,-51.1],[9.7,-54.6],[10.0,-52.1],[10.3,-55.2],[10.6,-51.9],[10.9,-55.0],[11.2,-49.9],[11.5,-52.7],[11.8,-50.5],[12.1,-53.4],[12.4,-51.6],[12.7,-54.4],[13.0,-49.3],[13.3,-52.1],[13.6,-49.8],[13.9,-52.8],[14.2,-47.8],[14.5,-50.6],[14.8,-49.7],[15.1,-52.6],[15.4,-48.2],[15.7,-50.9],[16.0,-47.2],[16.3,-50.0],[16.6,-47.8],[16.9,-51.2],[17.2,-48.5],[17.5,-50.1],[17.8,-45.8],[18.1,-48.5],[18.4,-47.2],[18.7,-50.6],[19.0,-45.6],[19.3,-48.4],[19.6,-47.3],[19.9,-49.0],[20.2,-45.4],[20.5,-49.8],[20.8,-46.0],[21.1,-47.0],[21.4,-43.9],[21.7,-47.4],[22.0,-44.9],[22.3,-48.0],[22.6,-44.7],[22.9,-47.8],[23.2,-42.7],[23.5,-45.5],[23.8,-43.3],[24.1,-46.2],[24.4,-44.4],[24.7,-47.2],[25.0,-42.1],[25.3,-44.9],[25.6,-42.6],[25.9,-45.6],[26.2,-40.6],[26.5,-43.4],[26.8,-42.5],[27.1,-45.4],[27.4,-41.0],[27.7,-43.7],[28.0,-40.0],[28.3,-42.8],[28.6,-40.6],[28.9,-44.0],[29.2,-41.3],[29.5,-42.9],[29.8,-38.6],[30.1,-41.3],[30.4,-40.0],[30.7,-43.4],[31.0,-38.4],[31.3,-41.2],[31.6,-40.1],[31.9,-41.8],[32.2,-38.2],[32.5,-42.6],[32.8,-38.8],[33.1,-39.8],[33.4,-36.7],[33.7,-40.2],[34.0,-37.7],[34.3,-40.8],[34.6,-37.5],[34.9,-40.6],[35.2,-35.5],[35.5,-38.3],[35.8,-36.1],[36.1,-39.0],[36.4,-37.2],[36.7,-40.0],[37.0,-34.9],[37.3,-37.7],[37.6,-35.4],[37.9,-38.4],[38.2,-33.4],[38.5,-36.2],[38.8,-35.3],[39.1,-38.2],[39.4,-33.8],[39.7,-36.5],[40.0,-32.8],[40.4,-35.6],[40.8,-33.3],[41.2,-36.6],[41.6,-33.8],[42.0,-35.4],[42.4,-31.1],[42.8,-33.7],[43.2,-32.3],[43.6,-35.6],[44.0,-30.6],[44.4,-33.4],[44.8,-32.2],[45.2,-33.8],[45.6,-30.1],[46.0,-34.5],[46.4,-30.7],[46.8,-31.6],[47.2,-28.4],[47.6,-31.8],[48.0,-29.3],[48.4,-32.4],[48.8,-29.0],[49.2,-32.0],[49.6,-26.8],[50.0,-29.6],[50.4,-27.4],[50.8,-30.2],[51.2,-28.3],[51.6,-31.0],[52.0,-25.9],[52.4,-28.7],[52.8,-26.3],[53.2,-29.2],[53.6,-24.1],[54.0,-26.9],[54.4,-26.0],[54.8,-28.8],[55.2,-24.3],[55.6,-26.9],[56.0,-23.2],[56.4,-26.0],[56.8,-23.7],[57.2,-27.0],[57.6,-24.2],[58.0,-25.8],[58.4,-21.5],[58.8,-24.1],[59.2,-22.7],[59.6,-26.0],[60.0,-21.0],[60.4,-23.7],[60.8,-22.6],[61.2,-24.1],[61.6,-20.4],[62.0,-24.8],[62.4,-20.9],[62.8,-21.9],[63.2,-18.6],[63.6,-22.1],[64.0,-19.5],[64.4,-22.5],[64.8,-19.1],[65.2,-22.1],[65.6,-16.9],[66.0,-19.6],[66.4,-17.2],[66.8,-19.9],[67.2,-17.8],[67.6,-20.4],[68.0,-15.1],[68.4,-17.5],[68.8,-14.9],[69.2,-17.4],[69.6,-11.8],[70.0,-14.1],[70.4,-12.2],[70.8,-14.1],[71.2,-8.2],[71.6,-9.1],[72.0,-3.6],[72.4,-4.6],
[0.2,-63.4],[0.45,-59.0],[0.7,-61.9],[0.95,-57.8],[1.2,-63.2],[1.45,-59.7],[1.65,-62.2],[1.9,-57.2],[2.15,-60.7],[2.35,-63.0],[2.55,-58.6],[2.8,-61.8],[3.05,-55.9],[3.25,-60.1],[3.45,-62.7],[3.75,-58.7],[3.95,-56.9],[4.2,-60.9],[4.45,-58.9],[4.7,-61.6],[4.95,-56.6],[5.2,-59.7],[5.45,-57.6],[5.7,-60.6],[5.95,-55.7],[6.25,-58.7],[6.55,-56.1],[6.8,-59.7],[7.1,-55.3],[7.4,-58.3],[7.7,-56.3],[8.0,-59.1],[8.3,-53.6],[8.6,-56.0],[8.95,-58.2],[9.25,-54.1],[9.6,-56.2],[9.9,-53.1],[10.2,-55.9],[10.55,-53.4],[10.9,-51.6],[11.25,-54.6],[11.6,-52.6],[11.95,-50.9],[12.3,-53.9],[12.65,-51.0],[13.0,-53.0],[13.4,-50.6],[13.8,-52.2],[14.2,-50.1],[14.6,-51.9],[15.0,-49.0],
[43.2,-26.0],[44.5,-25.4],[48.5,-26.1],[51.6,-22.7],[53.4,-21.4],[54.9,-16.7],[56.7,-17.0],[57.9,-10.5],[59.1,-10.0],[60.8,-5.4],[64.5,-3.2],[64.9,-5.9],[63.0,-10.8],[64.1,-9.2],[39.0,-27.6],[45.4,-27.7],[44.3,-29.5],[47.9,-21.9],[54.5,-34.6],[57.1,-31.4],[60.8,-24.9],[62.7,-28.1],[64.1,-27.9],[65.6,-24.6],[68.2,-22.7],[70.1,-20.8],[73.0,-19.5],[76.4,-14.0],[74.5,-12.7],[76.0,-14.0],[56.7,-8.3],[57.9,-3.7],[58.6,-5.4],[60.8,-4.8],[61.4,-1.3],[64.7,-3.2],[64.9,-2.9],
[39.1,-27.6],[35.3,-32.6],[30.9,-35.0],[34.0,-34.9],[24.4,-41.4],[22.7,-41.7],[19.7,-43.6],[15.9,-45.1],[14.5,-46.8],[28.2,-52.8],[27.0,-50.6],[18.2,-55.0],[16.7,-54.4],[10.4,-59.3],[7.9,-59.8],[7.1,-60.9],[2.3,-52.2],[4.3,-51.2],[6.4,-51.7],[7.1,-50.8],[0.8,-54.7]
];

var runTwoOpen = [
[2.8,82.0],[6.5,81.7],[9.1,81.4],[3.8,78.8],[7.0,78.7],[11.0,79.5],[14.0,80.4],[16.8,80.4],[18.5,78.4],[19.6,79.9],[24.9,81.1],
[0.4,74.3],[0.1,71.4],[1.1,69.3],[2.7,67.4],[3.8,67.4],[23.3,74.6],[23.9,75.8],[25.5,76.4],[23.8,72.6],[26.0,73.7],[27.9,73.4],[29.6,75.3],[32.0,75.5],[33.5,78.3],[34.1,76.1],[34.5,76.7],[35.9,77.5],[36.6,74.6],[33.9,71.1],[28.7,69.3],[31.9,69.3],[36.7,69.0],[38.8,70.5],[40.7,69.4],[24.1,68.5],[16.6,68.5],[17.8,67.3],[20.3,65.9],[18.5,63.9],[8.7,67.9],[7.4,65.3],[8.5,64.5],[10.7,64.2],[10.9,63.5],[12.9,65.3],[13.7,61.3],[4.6,60.9],[1.7,60.0],[0.4,58.9],[2.9,58.3],[2.1,57.3],[2.0,56.5],[23.7,63.7],[24.1,62.4],[23.2,60.3],[23.3,60.0],[25.8,59.2],[27.6,59.9],[29.8,62.5],[30.1,60.9],[31.6,60.0],[32.7,60.9],[36.2,64.8],[35.7,62.3],[35.8,60.7],[38.2,58.7],[39.9,63.0],[40.8,57.5],[11.6,55.3],[13.5,54.0],[17.8,56.4],[19.0,54.6],[20.7,54.4],[21.7,52.8],[16.0,52.3],[16.0,51.6],[17.8,52.3],[17.9,51.7],[19.6,51.5],[25.6,54.4],[29.6,55.3],[30.7,55.3],[30.4,52.4],[31.3,52.6],[34.3,54.3],[36.2,55.2],[36.1,52.8],[38.8,51.2],[1.4,49.5],[4.9,50.0],[5.9,48.6],[6.7,48.6],[6.0,47.6],[7.2,46.3],[8.5,47.5],[27.9,47.5],[24.0,45.0],[25.7,45.0],[24.5,43.2],[27.4,41.7],[25.0,40.6],[34.6,45.7],[38.8,45.4],[39.7,44.4],[38.6,42.7],[39.1,39.4],[40.8,38.3],[1.9,40.7],[1.7,40.5],[0.7,38.4],[11.2,41.1],[15.7,42.0],[16.7,42.6],[17.9,42.9],[18.4,43.4],[15.7,40.5],[14.5,37.9],[12.9,35.3],[16.6,35.4],[18.2,36.0],[18.2,35.4],[21.6,34.6],[22.2,34.3],[23.0,34.7],[25.8,36.2],[27.7,37.4],[32.7,41.1],[35.4,41.1],[30.8,36.5],[32.1,35.8],[33.3,35.6],[34.4,35.4],[33.9,33.8],[34.5,32.4],[0.0,34.1],[0.1,32.1],[4.1,34.4],[5.4,35.6],[7.2,31.8],[3.9,29.9],[3.5,28.1],[4.0,27.5],[5.3,28.8],[3.6,24.7],[8.4,26.2],[10.4,25.1],[10.8,24.0],[12.9,30.4],[13.9,32.0],[13.2,29.3],[14.4,28.7],[15.6,30.6],[20.4,29.6],[21.4,30.9],[25.8,31.6],[29.9,30.7],[30.9,30.7],[33.0,30.9],[31.4,27.9],[32.2,25.9],[35.4,28.7],[37.5,28.9],[38.8,26.0],[40.1,22.8],[19.3,25.9],[20.9,26.3],[25.4,25.7],[29.4,22.9],[14.5,24.1],[16.3,23.3],[12.4,22.0],[5.9,21.0],[18.9,22.0],[40.4,20.7],
[44.3,81.7],[45.4,80.0],[52.7,77.3],[52.5,75.3],[52.5,74.7],[56.8,76.6],[61.0,77.0],[65.5,81.5],[65.1,80.4],[65.6,79.6],[65.6,78.2],[68.2,72.8],[65.0,71.9],[65.1,67.4],[43.7,66.6],[46.7,67.9],[48.3,68.1],[50.5,65.8],[51.6,63.7],[55.1,65.3],[56.3,67.3],[59.4,66.5],[61.3,68.4],[62.0,63.8],[62.4,63.1],[62.7,62.0],[63.4,61.9],[64.1,61.7],[65.6,62.3],[46.9,60.1],[50.1,59.0],[45.0,57.8],[47.9,57.4],[47.8,55.4],[50.4,55.2],[50.8,54.6],[49.3,52.8],[51.6,51.9],[46.2,53.7],[42.4,54.7],[59.2,57.0],[60.3,54.7],[62.7,57.2],[62.9,56.4],[65.0,52.5],[64.9,51.1],[64.5,48.7],[56.0,51.9],[59.4,49.4],[48.7,47.1],[46.3,44.9],[49.9,43.0],[49.9,42.6],[52.3,42.5],[52.7,41.7],[55.6,46.5],[56.3,45.2],[57.3,46.5],[57.1,43.2],[60.8,45.5],[61.1,42.4],[66.1,46.3],[67.1,47.4],[67.4,42.1],[46.4,38.6],[46.7,37.1],[50.2,38.2],[57.7,37.7],[58.4,34.7],[61.0,37.8],[61.7,35.9],[64.4,38.3],[45.3,33.1],[47.9,33.7],[48.6,31.7],[50.1,30.3],[58.1,31.5],[58.2,31.1],[57.1,28.7],[64.7,33.4],[65.6,30.9],[66.6,29.8],[67.9,31.5],[68.0,30.3],[68.2,29.1],[45.1,27.8],[53.2,27.4],[54.0,25.7],[59.4,26.2],[43.1,24.4],[44.5,22.3],[45.3,21.5],[46.9,22.4],[56.3,21.7],[57.0,20.9],[60.0,20.8],[62.7,20.7],
[3.0,18.2],[5.2,18.5],[6.0,18.9],[4.1,16.4],[3.6,16.3],[2.0,14.0],[3.0,13.2],[3.6,12.1],[6.7,15.1],[7.6,14.4],[9.6,11.4],[11.3,11.8],[13.4,12.0],[16.7,14.4],[19.4,14.0],[21.0,14.5],[21.9,16.6],[22.5,11.4],[18.7,9.0],[24.5,18.2],[26.3,15.2],[27.1,16.7],[27.7,13.9],[29.4,13.4],[30.9,17.8],[31.3,17.3],[31.9,17.5],[32.4,13.2],[37.7,17.9],[36.8,11.4],[38.6,8.8],[36.6,7.8],[28.0,8.8],[31.3,8.2],[1.3,7.8],[0.8,4.4],[0.8,1.1],[5.3,2.3],[9.9,2.6],[14.3,6.4],[15.4,4.3],[15.1,3.6],[21.4,7.1],[22.0,6.3],[23.2,5.9],[27.6,2.2],[30.5,3.3],[34.2,4.3],[40.4,3.3],[39.0,0.7],[38.0,-1.3],[39.9,1.1],[0.4,-2.2],[2.7,-3.5],[4.6,-3.5],[5.8,-3.5],[8.5,-3.1],[12.6,-1.5],[21.6,-1.4],[21.4,-2.7],[22.3,-5.3],[25.9,-1.7],[26.8,-6.2],[12.6,-7.0],[14.9,-6.8],[30.8,-7.0],[31.4,-7.1],[32.7,-9.5],[32.5,-10.5],[34.2,-6.3],[31.4,-10.6],[37.9,-10.8],[39.8,-9.3],[1.0,-10.4],[2.4,-9.2],[23.4,-11.6],[28.5,-13.1],[27.7,-15.5],[23.3,-15.9],[25.5,-16.5],[35.7,-14.1],[35.3,-15.4],[2.1,-15.8],[2.7,-16.7],[7.5,-17.7],[7.0,-18.8],[9.6,-18.6],[12.4,-15.1],[13.8,-18.4],[14.1,-19.5],[14.5,-21.4],[14.3,-23.7],[17.2,-17.9],[20.8,-22.6],[21.4,-23.4],[28.7,-19.0],[32.0,-19.9],[32.3,-21.6],[34.7,-19.7],[36.4,-19.5],[40.6,-24.9],[1.3,-24.4],[8.8,-24.6],[10.4,-23.6],[14.1,-27.9],[12.5,-27.7],[11.6,-28.1],[11.7,-28.9],[10.4,-29.8],[5.0,-28.9],[26.9,-28.1],[36.7,-28.4],[9.3,-32.3],[17.2,-32.3],[19.2,-33.5],[16.2,-34.9],[18.6,-36.3],[30.5,-31.8],[31.4,-32.3],[0.8,-35.2],[7.7,-36.1],[15.3,-39.0],[6.0,-42.5],[0.5,-45.7],[1.6,-45.0],[2.7,-45.5],[5.4,-45.9],[9.9,-47.2],[12.0,-45.4],
[59.7,19.1],[61.7,17.9],[52.8,18.8],[52.1,15.1],[46.4,14.8],[57.7,14.8],[60.7,13.6],[63.3,13.1],[64.3,14.3],[63.5,10.4],[64.5,10.2],[65.9,10.4],[66.4,7.9],[69.3,11.9],[68.2,6.6],[66.6,4.8],[68.7,2.4],[68.2,1.1],[68.9,1.7],[64.5,2.2],[63.9,0.6],[64.7,0.9],[62.1,6.7],[57.7,7.0],[53.8,5.3],[55.2,3.2],[52.4,8.9],[49.0,9.9],[46.9,10.6],[44.0,9.8],[43.6,7.6],[47.0,5.0],[45.6,3.1],[41.7,4.1],[52.1,-0.1],[43.9,-1.3],[43.8,-2.1],[45.8,-5.3],[49.3,-8.0],[51.7,-9.4],[51.8,-9.0],[53.8,-7.7],[43.2,-14.6],[50.0,-15.4],[41.6,-23.8],[42.2,-23.5]
];

var runTwoRed = [
[20.4,73.8]
];

var tickFont = 'Liberation Sans, Arial, Helvetica, sans-serif';
var minus = function (v) { return String(v).replace('-', '\u2212'); };

function xAxisFor(grid, pos, labels) {
	return {
		type: 'value', gridIndex: grid, position: pos, min: 0, max: 80, interval: 20,
		axisLine: { show: true, onZero: false, lineStyle: { color: '#000', width: 3 } },
		axisTick: { show: true, inside: true, length: 10, lineStyle: { color: '#000', width: 2.5 } },
		axisLabel: { show: labels, fontSize: 55, fontFamily: tickFont, color: '#000', margin: 13 },
		splitLine: { show: false }
	};
}

function yAxisFor(grid, pos, labels, lo, hi, ticks) {
	return {
		type: 'value', gridIndex: grid, position: pos, min: lo, max: hi,
		axisLine: { show: true, onZero: false, lineStyle: { color: '#000', width: 3 } },
		axisTick: { show: true, inside: true, length: 10, customValues: ticks, lineStyle: { color: '#000', width: 2.5 } },
		axisLabel: { show: labels, customValues: ticks, fontSize: 55, fontFamily: tickFont, color: '#000', margin: 19, formatter: minus },
		splitLine: { show: false }
	};
}

function dots(xi, yi, data) {
	return { type: 'scatter', xAxisIndex: xi, yAxisIndex: yi, data: data, symbol: 'circle', symbolSize: 5.5,
		itemStyle: { color: '#000', opacity: 1 }, silent: true, z: 2, emphasis: { disabled: true } };
}
function rings(xi, yi, data) {
	return { type: 'scatter', xAxisIndex: xi, yAxisIndex: yi, data: data, symbol: 'circle', symbolSize: 18,
		itemStyle: { color: 'rgba(0,0,0,0)', borderColor: '#0000ff', borderWidth: 1.8, opacity: 1 }, silent: true, z: 3, emphasis: { disabled: true } };
}
function reds(xi, yi, data) {
	return { type: 'scatter', xAxisIndex: xi, yAxisIndex: yi, data: data, symbol: 'circle', symbolSize: 21,
		itemStyle: { color: '#ff0000', opacity: 1 }, silent: true, z: 4, emphasis: { disabled: true } };
}

function xTitle(cx) {
	return { type: 'text', x: cx, y: 1211, z: 20, style: {
		text: '{m|R}{p|2}{m|/R}{s|jar}{m| (mm)}', align: 'center', verticalAlign: 'middle',
		rich: {
			m: { fontSize: 56, fontFamily: tickFont, lineHeight: 98, fill: '#000' },
			p: { fontSize: 40, fontFamily: tickFont, lineHeight: 40, verticalAlign: 'top', fill: '#000' },
			s: { fontSize: 40, fontFamily: tickFont, lineHeight: 40, verticalAlign: 'bottom', fill: '#000' }
		} } };
}
function zTitle(cx) {
	return { type: 'text', x: cx, y: 558, rotation: Math.PI / 2, z: 20,
		style: { text: 'Z (mm)', fontSize: 56, fontFamily: tickFont, fill: '#000', align: 'center', verticalAlign: 'middle' } };
}
function expectation(x0, main, up, down) {
	return { type: 'text', x: x0, y: 1327, z: 20, style: {
		text: '{m|' + main + '}{p|' + up + '}{s|' + down + '}', align: 'left', verticalAlign: 'middle',
		rich: {
			m: { fontSize: 46, fontFamily: 'Roboto', fontWeight: 300, lineHeight: 48, fill: '#111' },
			p: { fontSize: 30, fontFamily: 'Roboto', fontWeight: 300, lineHeight: 30, verticalAlign: 'top', fill: '#111' },
			s: { fontSize: 30, fontFamily: 'Roboto', fontWeight: 300, lineHeight: 30, verticalAlign: 'bottom', fill: '#111' }
		} } };
}
function liveBox(x0, y0, label) {
	return [
		{ type: 'rect', z: 25, shape: { x: x0, y: y0, width: 423, height: 91 }, style: { fill: '#fff', stroke: '#000', lineWidth: 3 } },
		{ type: 'text', z: 26, x: x0 + 211, y: y0 + 45, style: { text: label, fontSize: 56, fontFamily: tickFont, fill: '#000', align: 'center', verticalAlign: 'middle' } }
	];
}

var chart = echarts.init(document.getElementById('chart'), null, { renderer: 'canvas' });

var option = {
	animation: false,
	backgroundColor: '#fff',
	grid: [
		{ left: 273, top: 33, width: 720, height: 1050, containLabel: false, outerBoundsMode: 'none' },
		{ left: 1303, top: 32, width: 720, height: 1050, containLabel: false, outerBoundsMode: 'none' }
	],
	xAxis: [xAxisFor(0, 'bottom', true), xAxisFor(0, 'top', false), xAxisFor(1, 'bottom', true), xAxisFor(1, 'top', false)],
	yAxis: [
		yAxisFor(0, 'left', true, -80, 80, yTicksRunOne), yAxisFor(0, 'right', false, -80, 80, yTicksRunOne),
		yAxisFor(1, 'left', true, -64, 100, yTicksRunTwo), yAxisFor(1, 'right', false, -64, 100, yTicksRunTwo)
	],
	series: [
		dots(0, 0, runOneDots), rings(0, 0, runOneOpen), reds(0, 0, runOneRed),
		dots(2, 2, runTwoDots), rings(2, 2, runTwoOpen), reds(2, 2, runTwoRed)
	],
	graphic: [
		xTitle(634), xTitle(1662), zTitle(120), zTitle(1150),
		expectation(274, 'Neutron expectation: 0.6', '+0.2', '-0.4'),
		expectation(1367, 'Neutron expectation: 1.0', '+0.2', '-0.7'),
		{ type: 'text', x: 70, y: 135, z: 20, style: { text: 'run I', fontSize: 52, fontFamily: 'Lato', fontWeight: 300, fill: '#111', align: 'center', verticalAlign: 'middle' } },
		{ type: 'text', x: 2129, y: 135, z: 20, style: { text: 'run II', fontSize: 52, fontFamily: 'Lato', fontWeight: 300, fill: '#111', align: 'center', verticalAlign: 'middle' } },
		{ type: 'text', x: 1112, y: 184, z: 20, style: { text: 'Surface\nrate\nalso\nreduced', fontSize: 58, lineHeight: 74.5, fontFamily: 'Lato', fill: '#ff2a00', align: 'center', verticalAlign: 'middle' } },
		{ type: 'rect', z: 30, shape: { x: 232, y: 18, width: 495, height: 72, r: 34 }, style: { fill: 'none', stroke: '#ff2a00', lineWidth: 4.5 } },
		{ type: 'rect', z: 30, shape: { x: 1271, y: 59, width: 494, height: 73, r: 34 }, style: { fill: 'none', stroke: '#ff2a00', lineWidth: 4.5 } }
	].concat(liveBox(566, 986, '32.2 live\u2013days'), liveBox(1595, 986, '66.3 live\u2013days'))
};

chart.setOption(option);

</script>
</body>
</html>
